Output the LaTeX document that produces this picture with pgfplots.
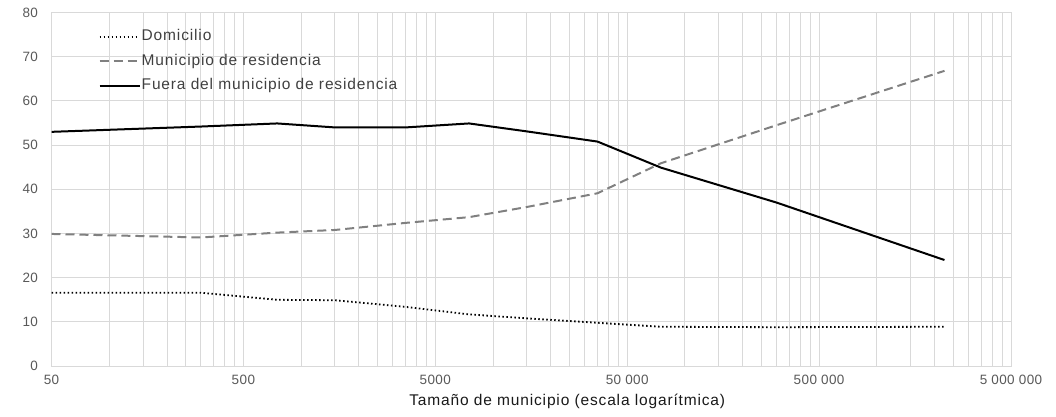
\documentclass[border=0pt]{standalone}
\usepackage{pgfplots}
\pgfplotsset{compat=1.18}
\usepackage{fontspec}
\setmainfont{Liberation Sans}
\newfontfamily\legfont[LetterSpace=5.5]{Liberation Sans}
\newfontfamily\tickfont[LetterSpace=3]{Liberation Sans}
\definecolor{gridc}{HTML}{D9D9D9}
\definecolor{dashc}{HTML}{808080}
\definecolor{tickc}{HTML}{595959}
\definecolor{legc}{HTML}{404040}
\begin{document}
\begin{tikzpicture}
\begin{axis}[
  scale only axis,
  width=959.5pt, height=353.6pt,
  at={(51.5pt,50.9pt)}, anchor=south west,
  xmode=log, log basis x=10,
  xmin=50, xmax=5000000,
  ymin=0, ymax=80,
  ytick={0,10,...,80},
  xtick={50,500,5000,50000,500000,5000000},
  xticklabels={50,500,5000,50 000,500 000,5 000 000},
  minor xtick={100,150,200,250,300,350,400,450,
    1000,1500,2000,2500,3000,3500,4000,4500,
    10000,15000,20000,25000,30000,35000,40000,45000,
    100000,150000,200000,250000,300000,350000,400000,450000,
    1000000,1500000,2000000,2500000,3000000,3500000,4000000,4500000},
  xmajorgrids, xminorgrids, ymajorgrids,
  grid style={draw=gridc, line width=1pt},
  minor grid style={draw=gridc, line width=1pt},
  axis line style={draw=gridc, line width=1pt},
  major tick length=0pt, minor tick length=0pt,
  tick style={draw=none},
  /pgf/number format/assume math mode=true,
  ticklabel style={font=\tickfont\fontsize{13.5}{15}\selectfont, text=tickc},
  yticklabel style={xshift=-10pt},
  xticklabel style={yshift=-5pt},
  xlabel={Tamaño de municipio (escala logarítmica)},
  xlabel style={font=\legfont\fontsize{15.5}{17}\selectfont, text=black!90, xshift=36pt, yshift=-3pt},
  legend style={draw=none, fill=none, at={(0.049,0.955)}, anchor=north west,
    font=\legfont\fontsize{15.5}{17}\selectfont, text=legc, row sep=8.5pt,
    inner sep=0pt, nodes={inner sep=1pt, text height=11pt, text depth=3pt}},
  legend cell align=left,
  legend image code/.code={\draw[#1] (0pt,0pt) -- (40pt,0pt);},
]
\addplot[black, line width=1.8pt, dash pattern=on 1.5pt off 2.5pt, line cap=butt] coordinates {
(50,16.6) (300,16.6) (750,15.0) (1500,14.9) (3500,13.4) (7500,11.7) (15000,10.8) (35000,9.8) (75000,8.9) (300000,8.8) (2250000,8.9)};
\addlegendentry{Domicilio}
\addplot[dashc, line width=2pt, dash pattern=on 9pt off 5pt, line cap=butt] coordinates {
(50,29.9) (300,29.1) (750,30.2) (1500,30.8) (3500,32.4) (7500,33.7) (15000,36.0) (35000,39.1) (75000,45.9) (300000,54.5) (2250000,66.8)};
\addlegendentry{Municipio de residencia}
\addplot[black, line width=2pt] coordinates {
(50,53.0) (300,54.2) (750,54.9) (1500,54.0) (3500,54.0) (7500,54.9) (15000,53.1) (35000,50.8) (75000,44.9) (300000,37.0) (2250000,24.0)};
\addlegendentry{Fuera del municipio de residencia}
\end{axis}
\pgfresetboundingbox
\path[use as bounding box] (0,0) rectangle (1056pt,417pt);
\end{tikzpicture}
\end{document}
